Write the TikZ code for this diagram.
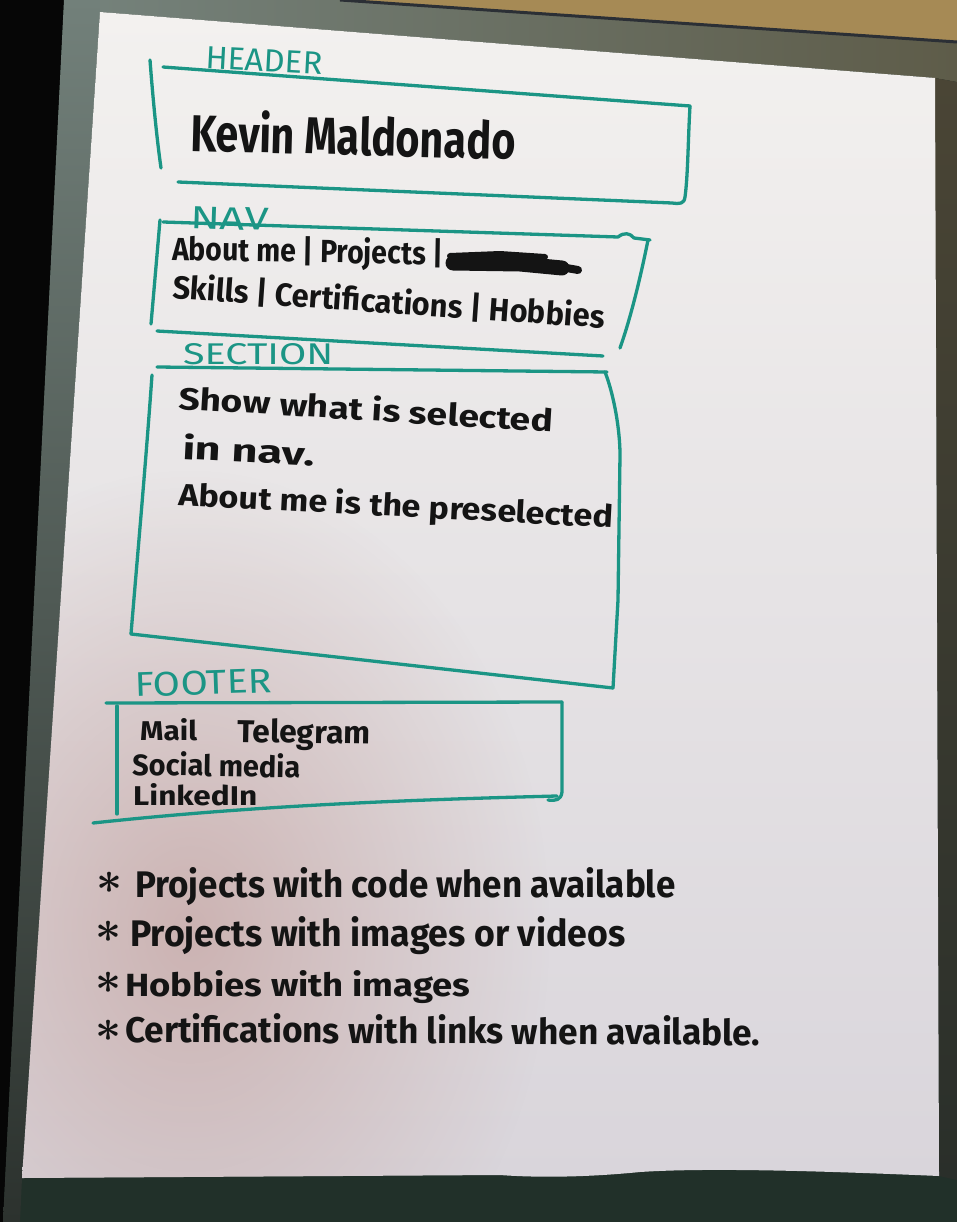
\documentclass[tikz,border=0pt]{standalone}
\usepackage{graphicx}
\usepackage{fontspec}
\setmainfont{Fira Sans}
\usetikzlibrary{fadings}

% ink and paper colours
\definecolor{ink}{HTML}{141414}
\definecolor{marker}{HTML}{1B9585}
\definecolor{paperTop}{HTML}{F3F1EF}
\definecolor{paperBottom}{HTML}{D9D5DB}
\definecolor{blush}{HTML}{C4A29F}
\definecolor{glassTop}{HTML}{72807A}
\definecolor{glassBottom}{HTML}{2C322E}
\definecolor{wall}{HTML}{A68A55}
\definecolor{bandLeft}{HTML}{74817A}
\definecolor{bandRight}{HTML}{5E5C49}
\definecolor{sideTop}{HTML}{4A4535}
\definecolor{sideBottom}{HTML}{2A2F2A}
\definecolor{floor}{HTML}{213029}
\definecolor{void}{HTML}{060606}
\definecolor{rim}{HTML}{2B2F35}

\tikzfading[name=softspot, inner color=transparent!0, outer color=transparent!100]

\tikzset{
  pen/.style={draw=marker, line width=3.3pt, line cap=round, line join=round},
  hand/.style={text=ink, font=\bfseries, inner sep=0pt, anchor=base west},
  tag/.style={text=marker, inner sep=0pt, anchor=base west},
  star/.style={text=ink, inner sep=0pt, anchor=center},
  scribble/.style={draw=ink, line cap=round, line join=round},
}
% a large bold asterisk for the bullet list
\newcommand{\bulletstar}{\resizebox{26pt}{!}{\boldmath$\ast$}}

\begin{document}
\begin{tikzpicture}[x=1pt,y=-1pt]
\useasboundingbox (0,0) rectangle (957,1222);

% ---- surroundings of the sheet ----
\fill[floor] (0,0) rectangle (957,1222);
\fill[void] (0,0) -- (64,0) -- (3,1222) -- (0,1222) -- cycle;
\shade[top color=glassTop, bottom color=glassBottom]
  (64,0) -- (110,0) -- (100,12) -- (22,1178) -- (20,1222) -- (3,1222) -- cycle;
\shade[left color=bandLeft, right color=bandRight]
  (100,0) -- (957,0) -- (957,82) -- (935,78) -- (100,12) -- cycle;
\fill[wall] (340,0) -- (957,0) -- (957,42) -- cycle;
\draw[rim, line width=3pt] (340,0) -- (957,42);
\shade[top color=sideTop, bottom color=sideBottom]
  (935,78) -- (957,82) -- (957,1180) -- (939,1176) -- cycle;

% ---- the sheet ----
\def\sheet{(100,12) -- (935,78) -- (939,1176)
  .. controls (800,1170) and (700,1168) .. (640,1172)
  .. controls (590,1177) and (540,1178) .. (500,1175) -- (22,1178) -- cycle}
\shade[top color=paperTop, bottom color=paperBottom] \sheet;
\begin{scope}
  \clip \sheet;
  \fill[blush, path fading=softspot, fill opacity=0.7] (190,930) ellipse (360 and 460);
\end{scope}

% ---- HEADER ----
\node[tag, rotate=-3] (headerTag) at (205,68) {\resizebox{117pt}{22pt}{HEADER}};
\draw[pen] (150,60) .. controls (153,100) and (157,140) .. (161,168);
\draw[pen] (163,67) -- (690,106);
\draw[pen] (690,106) .. controls (688,140) and (688,175) .. (685,197)
  .. controls (684,204) and (680,204) .. (672,203) -- (178,182);
\node[hand, rotate=-1.5] (title) at (190,151) {\resizebox{325pt}{42pt}{Kevin Maldonado}};

% ---- NAV ----
\node[tag, rotate=-2] (navTag) at (190,228) {\resizebox{78pt}{22pt}{NAV}};
\draw[pen] (160,220) .. controls (157,255) and (154,290) .. (151,324);
\draw[pen] (163,222) -- (618,237) .. controls (624,232) and (630,233) .. (634,238) -- (650,240);
\draw[pen] (648,240) .. controls (640,280) and (630,320) .. (620,348);
\draw[pen] (157,331) -- (603,356);
\node[hand, rotate=-1] (navLineA) at (172,260) {\resizebox{271pt}{26pt}{About me | Projects |}};
% crossed-out entry
\draw[scribble, line width=15pt] (453,263) -- (520,264) -- (562,268);
\draw[scribble, line width=6pt] (450,256) -- (500,254) -- (545,257);
\draw[scribble, line width=8pt] (555,266) -- (578,270);
\node[hand, rotate=-4] (navLineB) at (172,298) {\resizebox{433pt}{26pt}{Skills | Certifications | Hobbies}};

% ---- SECTION ----
\node[tag] (sectionTag) at (183,364) {\resizebox{150pt}{21pt}{SECTION}};
\draw[pen] (157,367) -- (607,372);
\draw[pen] (152,375) .. controls (146,460) and (138,550) .. (131,634);
\draw[pen] (131,634) -- (613,688);
\draw[pen] (605,372) .. controls (614,395) and (620,430) .. (620,455) -- (618,600) -- (613,688);
\node[hand, rotate=-3.5] (sectionLineA) at (178,409) {\resizebox{375pt}{25pt}{Show what is selected}};
\node[hand, rotate=-3] (sectionLineB) at (182,459) {\resizebox{132pt}{26pt}{in nav.}};
\node[hand, rotate=-3] (sectionLineC) at (178,505) {\resizebox{435pt}{25pt}{About me is the preselected}};

% ---- FOOTER ----
\node[tag, rotate=2] (footerTag) at (135,697) {\resizebox{137pt}{24pt}{FOOTER}};
\draw[pen] (106,703) -- (562,702);
\draw[pen] (117,706) -- (117,814);
\draw[pen] (562,702) -- (562,792) .. controls (561,800) and (556,801) .. (548,800);
\draw[pen] (93,823) .. controls (250,806) and (400,800) .. (557,796);
\node[hand] (mail) at (140,740) {\resizebox{57pt}{22pt}{Mail}};
\node[hand, rotate=-1] (telegram) at (237,742) {\resizebox{133pt}{24pt}{Telegram}};
\node[hand, rotate=-1] (social) at (132,775) {\resizebox{168pt}{24pt}{Social media}};
\node[hand] (linkedin) at (133,805) {\resizebox{124pt}{22pt}{LinkedIn}};

% ---- notes ----
\node[star] (starA) at (110,883) {\bulletstar};
\node[hand] (noteA) at (135,897) {\resizebox{540pt}{30pt}{Projects with code when available}};
\node[star] (starB) at (109,932) {\bulletstar};
\node[hand] (noteB) at (130,946) {\resizebox{495pt}{30pt}{Projects with images or videos}};
\node[star] (starC) at (109,983) {\bulletstar};
\node[hand] (noteC) at (125,996) {\resizebox{345pt}{26pt}{Hobbies with images}};
\node[star] (starD) at (109,1031) {\bulletstar};
\node[hand, rotate=-0.3] (noteD) at (125,1042) {\resizebox{635pt}{29pt}{Certifications with links when available.}};

\end{tikzpicture}
\end{document}
